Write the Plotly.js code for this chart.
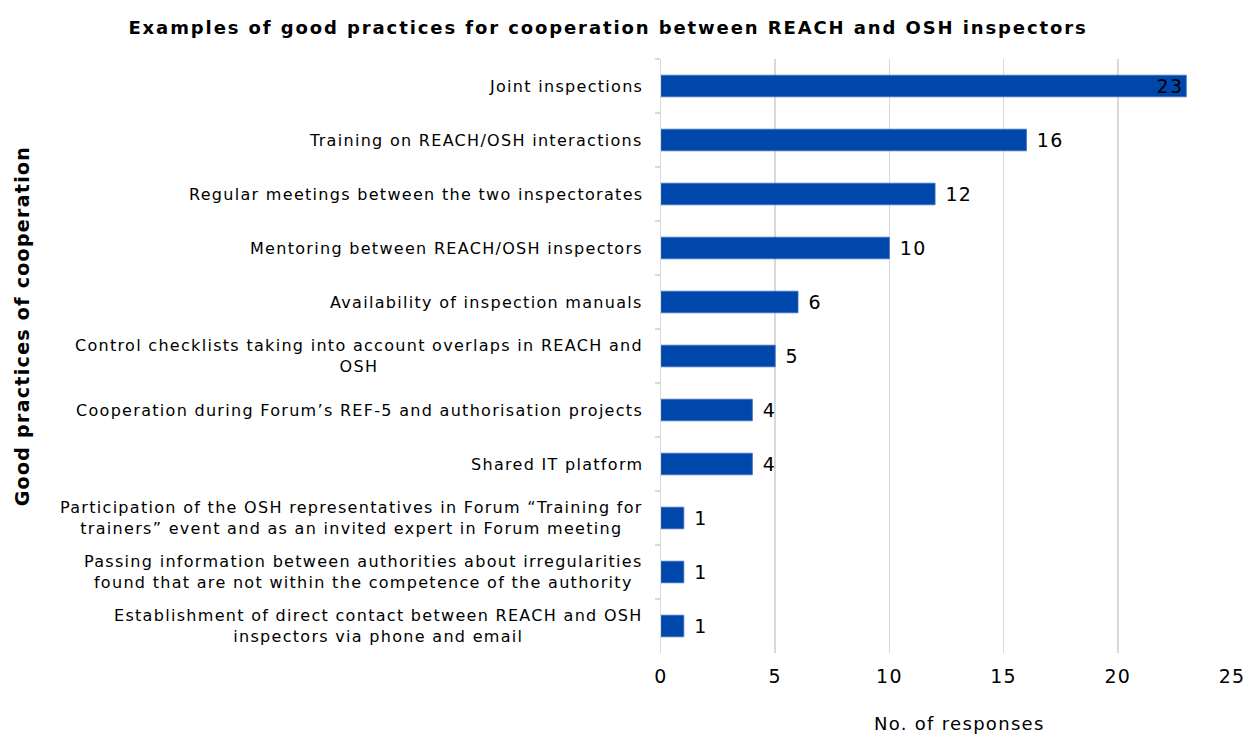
<!DOCTYPE html>
<html><head><meta charset="utf-8">
<script src="https://cdn.plot.ly/plotly-3.0.1.min.js"></script>
<style>
html,body{margin:0;padding:0;background:#fff}
#chart{width:1247px;height:736px}
text.annotation-text{letter-spacing:1.3px}
text.gtitle{letter-spacing:1.9px}
.xtick text{letter-spacing:1.2px}
text.bartext{letter-spacing:1.3px}
</style>
</head><body><div id="chart"></div>
<script>
const categories = [
  "Joint inspections",
  "Training on REACH/OSH interactions",
  "Regular meetings between the two inspectorates",
  "Mentoring between REACH/OSH inspectors",
  "Availability of inspection manuals",
  "Control checklists taking into account overlaps in REACH and<br>OSH",
  "Cooperation during Forum’s REF-5 and authorisation projects",
  "Shared IT platform",
  "Participation of the OSH representatives in Forum “Training for<br>trainers” event and as an invited expert in Forum meeting",
  "Passing information between authorities about irregularities<br>found that are not within the competence of the authority",
  "Establishment of direct contact between REACH and OSH<br>inspectors via phone and email"
];
const responses = [23, 16, 12, 10, 6, 5, 4, 4, 1, 1, 1];
const xTicks = [0, 5, 10, 15, 20, 25];

const FONT = "DejaVu Sans, Verdana, sans-serif";
const textPos = responses.map((v, i) => i === 0 ? "inside" : "outside");
const textTpl = responses.map((v, i) => i === 0 ? "%{x}" : " %{x}");

const trace = {
  type: "bar",
  orientation: "h",
  y: categories,
  x: responses,
  width: 0.4,
  marker: {color: "#0047AB", line: {color: "#3f6fc4", width: 0.8}},
  texttemplate: textTpl,
  textposition: textPos,
  insidetextanchor: "end",
  constraintext: "none",
  textfont: {family: FONT, size: 19, color: "#000"},
  insidetextfont: {family: FONT, size: 19, color: "#000"},
  outsidetextfont: {family: FONT, size: 19, color: "#000"},
  cliponaxis: false,
  hoverinfo: "none"
};

const annotations = categories.map(c => ({
  xref: "paper", yref: "y", x: 0, y: c, xanchor: "right", yanchor: "middle",
  xshift: -16, text: c, showarrow: false, align: "center",
  font: {family: FONT, size: 16, color: "#000"}
}));

const layout = {
  width: 1247, height: 736,
  margin: {l: 661, r: 15, t: 59, b: 83},
  paper_bgcolor: "#fff", plot_bgcolor: "#fff",
  title: {text: "<b>Examples of good practices for cooperation between REACH and OSH inspectors</b>",
          font: {family: FONT, size: 18, color: "#000"}, x: 0.4876, xanchor: "center", y: 0.962, yanchor: "middle"},
  xaxis: {
    range: [0, 25], tickvals: xTicks, ticktext: xTicks.map(String),
    showgrid: true, gridcolor: "#d9d9d9", gridwidth: 1.5,
    zeroline: false, showline: false, ticks: "", ticklabelstandoff: 10,
    tickfont: {family: FONT, size: 19, color: "#000"},
    title: {text: ""}
  },
  yaxis: {
    type: "category", autorange: "reversed",
    showticklabels: false, tickson: "boundaries", ticks: "outside", ticklen: 5, tickcolor: "#d9d9d9", tickwidth: 1.5,
    showline: true, linecolor: "#d9d9d9", linewidth: 1.5, showgrid: false, zeroline: false,
    title: {text: ""}
  },
  annotations: annotations.concat([{
    xref: "paper", yref: "paper", x: -639/571, y: 0.55, xanchor: "center", yanchor: "middle",
    text: "<b>Good practices of cooperation</b>", textangle: -90, showarrow: false,
    font: {family: FONT, size: 19, color: "#000"}
  }, {
    xref: "paper", yref: "paper", x: (959 - 661) / 571, y: -70 / 594, xanchor: "center", yanchor: "middle",
    text: "No. of responses", showarrow: false,
    font: {family: FONT, size: 18, color: "#000"}
  }]),
  showlegend: false,
  bargap: 0.6
};

Plotly.newPlot("chart", [trace], layout, {displayModeBar: false, staticPlot: true});
</script>
</body></html>
